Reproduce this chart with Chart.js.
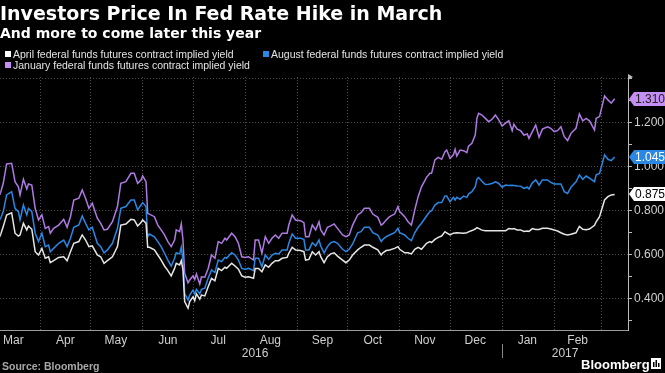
<!DOCTYPE html>
<html>
<head>
<meta charset="utf-8">
<script src="https://cdn.jsdelivr.net/npm/chart.js@4.4.1/dist/chart.umd.min.js"></script>
<style>
  html, body { margin: 0; padding: 0; background: #000; }
  #wrap { width: 665px; height: 373px; }
</style>
</head>
<body>
<div id="wrap"><canvas id="fedChart" width="665" height="373"></canvas></div>
<script>
// x values are days counted from 1 Mar 2016
const days = [
  7, 9, 11, 14, 16, 18, 19, 21, 23, 24, 26, 28, 30, 32, 34, 36, 37, 39, 42, 45,
  47, 49, 51, 54, 56, 58, 60, 62, 65, 67, 69, 71, 74, 77, 79, 82, 85, 87, 89, 91,
  92, 94, 95,
  96, 99, 101, 103, 105, 107, 109, 111, 112, 114, 115, 116, 117, 119, 120, 122, 123, 124, 126, 127,
  129, 131, 133, 135, 137, 139, 141, 142, 145, 147, 149, 151, 153, 155, 158, 159, 161, 163, 165, 167,
  169, 171, 173, 175, 178, 179, 181, 183,
  186, 188, 189, 191, 193, 195, 197, 198, 200, 202, 204, 206, 208, 211, 213, 215, 217, 220, 222, 224,
  227, 229, 232, 234, 235, 237, 239, 242, 244, 245, 248, 250, 252, 254, 256, 258, 261, 263, 264, 266,
  268, 270, 272, 273,
  275, 277, 278, 279, 281, 283, 285, 286, 288, 290, 291, 292, 294, 296, 298, 300, 302, 304, 306, 308,
  310, 312, 313, 315, 317, 319, 321, 322, 324, 326, 328, 330, 333, 335, 337, 339, 341, 343, 345, 347,
  350, 352, 354, 356, 358, 361, 362, 364, 367, 369, 371, 373
];

const aprilYield = [
  0.683, 0.729, 0.782, 0.792, 0.699, 0.686, 0.691, 0.744, 0.714, 0.732, 0.717, 0.615, 0.600, 0.630, 0.585, 0.592, 0.565, 0.574, 0.589, 0.592,
  0.574, 0.615, 0.653, 0.661, 0.691, 0.668, 0.638, 0.641, 0.600, 0.592, 0.562, 0.574, 0.592, 0.638, 0.736, 0.741, 0.762, 0.759, 0.732, 0.747,
  0.759, 0.744, 0.635,
  0.635, 0.623, 0.600, 0.577, 0.550, 0.529, 0.505, 0.539, 0.562, 0.555, 0.574, 0.532, 0.388, 0.358, 0.388, 0.410, 0.392, 0.423, 0.399, 0.418,
  0.414, 0.456, 0.494, 0.483, 0.539, 0.529, 0.544, 0.539, 0.562, 0.550, 0.535, 0.505, 0.499, 0.501, 0.494, 0.539, 0.539, 0.524, 0.555, 0.544,
  0.562, 0.574, 0.574, 0.585, 0.589, 0.608, 0.635, 0.623,
  0.620, 0.615, 0.577, 0.580, 0.615, 0.600, 0.615, 0.592, 0.565, 0.592, 0.605, 0.610, 0.595, 0.577, 0.565, 0.577, 0.600, 0.623, 0.635, 0.645,
  0.645, 0.635, 0.623, 0.600, 0.610, 0.620, 0.623, 0.630, 0.638, 0.626, 0.610, 0.610, 0.605, 0.626, 0.635, 0.626, 0.653, 0.661, 0.656, 0.671,
  0.680, 0.686, 0.706, 0.701,
  0.691, 0.699, 0.700, 0.701, 0.700, 0.699, 0.701, 0.705, 0.711, 0.718, 0.724, 0.721, 0.713, 0.710, 0.710, 0.710, 0.710, 0.710, 0.710, 0.710,
  0.720, 0.718, 0.720, 0.714, 0.714, 0.707, 0.709, 0.707, 0.720, 0.716, 0.716, 0.721, 0.721, 0.718, 0.714, 0.709, 0.701, 0.694, 0.691, 0.694,
  0.701, 0.730, 0.717, 0.715, 0.718, 0.735, 0.751, 0.774, 0.850, 0.865, 0.873, 0.875
];

const augustYield = [
  0.759, 0.797, 0.873, 0.888, 0.812, 0.797, 0.759, 0.827, 0.782, 0.812, 0.797, 0.699, 0.661, 0.699, 0.638, 0.645, 0.615, 0.630, 0.653, 0.668,
  0.638, 0.676, 0.726, 0.736, 0.777, 0.744, 0.714, 0.726, 0.653, 0.638, 0.610, 0.623, 0.653, 0.721, 0.812, 0.820, 0.850, 0.850, 0.805, 0.827,
  0.838, 0.820, 0.683,
  0.695, 0.683, 0.661, 0.638, 0.608, 0.577, 0.550, 0.585, 0.610, 0.605, 0.635, 0.577, 0.426, 0.395, 0.418, 0.441, 0.423, 0.444, 0.423, 0.444,
  0.449, 0.494, 0.532, 0.520, 0.577, 0.570, 0.589, 0.585, 0.610, 0.600, 0.577, 0.539, 0.535, 0.539, 0.529, 0.585, 0.585, 0.547, 0.600, 0.580,
  0.600, 0.608, 0.605, 0.623, 0.623, 0.653, 0.695, 0.676,
  0.676, 0.671, 0.623, 0.623, 0.656, 0.641, 0.668, 0.641, 0.610, 0.638, 0.656, 0.661, 0.653, 0.626, 0.615, 0.626, 0.650, 0.701, 0.706, 0.726,
  0.726, 0.701, 0.691, 0.661, 0.671, 0.683, 0.691, 0.701, 0.721, 0.701, 0.691, 0.676, 0.665, 0.701, 0.726, 0.744, 0.777, 0.797, 0.801, 0.827,
  0.838, 0.838, 0.868, 0.868,
  0.842, 0.862, 0.850, 0.862, 0.853, 0.868, 0.862, 0.877, 0.888, 0.910, 0.945, 0.952, 0.935, 0.920, 0.922, 0.925, 0.932, 0.925, 0.908, 0.918,
  0.916, 0.917, 0.916, 0.914, 0.913, 0.903, 0.908, 0.900, 0.928, 0.941, 0.918, 0.941, 0.941, 0.930, 0.923, 0.923, 0.923, 0.888, 0.880, 0.908,
  0.933, 0.964, 0.944, 0.959, 0.949, 0.933, 0.964, 0.971, 1.055, 1.035, 1.029, 1.045
];

const januaryYield = [
  0.873, 0.926, 1.014, 1.017, 0.933, 0.910, 0.873, 0.944, 0.900, 0.923, 0.918, 0.812, 0.759, 0.782, 0.721, 0.729, 0.699, 0.721, 0.736, 0.762,
  0.726, 0.774, 0.850, 0.858, 0.895, 0.858, 0.812, 0.835, 0.767, 0.744, 0.714, 0.717, 0.751, 0.820, 0.926, 0.933, 0.971, 0.971, 0.926, 0.941,
  0.959, 0.933, 0.789,
  0.786, 0.774, 0.736, 0.714, 0.691, 0.661, 0.638, 0.668, 0.714, 0.706, 0.741, 0.668, 0.517, 0.474, 0.486, 0.505, 0.489, 0.514, 0.468, 0.501,
  0.499, 0.539, 0.600, 0.585, 0.661, 0.653, 0.676, 0.668, 0.699, 0.683, 0.653, 0.592, 0.589, 0.592, 0.577, 0.668, 0.668, 0.608, 0.683, 0.653,
  0.676, 0.691, 0.676, 0.699, 0.699, 0.736, 0.782, 0.759,
  0.756, 0.747, 0.683, 0.683, 0.736, 0.714, 0.751, 0.714, 0.691, 0.726, 0.732, 0.741, 0.721, 0.691, 0.683, 0.691, 0.736, 0.782, 0.792, 0.812,
  0.812, 0.786, 0.771, 0.736, 0.741, 0.759, 0.774, 0.786, 0.820, 0.797, 0.774, 0.751, 0.736, 0.805, 0.865, 0.910, 0.953, 0.971, 0.971, 1.032,
  1.044, 1.035, 1.070, 1.077,
  1.039, 1.055, 1.080, 1.050, 1.077, 1.074, 1.065, 1.095, 1.108, 1.145, 1.221, 1.244, 1.236, 1.221, 1.206, 1.217, 1.236, 1.214, 1.186, 1.199,
  1.210, 1.165, 1.194, 1.172, 1.165, 1.145, 1.150, 1.130, 1.161, 1.191, 1.135, 1.172, 1.183, 1.176, 1.161, 1.165, 1.183, 1.138, 1.120, 1.153,
  1.176, 1.241, 1.210, 1.221, 1.210, 1.168, 1.221, 1.229, 1.323, 1.305, 1.290, 1.310
];

const seriesNames = [
  'April federal funds futures contract implied yield',
  'August federal funds futures contract implied yield',
  'January federal funds futures contract implied yield'
];

const monthNames = ['Mar', 'Apr', 'May', 'Jun', 'Jul', 'Aug', 'Sep', 'Oct', 'Nov', 'Dec', 'Jan', 'Feb'];
const monthMids = [15, 46, 76, 107, 137, 168, 199, 229, 260, 290, 321, 351];
const monthStarts = [31, 61, 92, 122, 153, 184, 214, 245, 275, 306, 337, 365];
const years = ['2016', '2017'];
const yearBreak = 306;

const yTicks = [0.3, 0.4, 0.5, 0.6, 0.7, 0.8, 0.9, 1.0, 1.1, 1.2, 1.3, 1.4];
const yLabelled = [0.4, 0.6, 0.8, 1.0, 1.2];
const yGridded = [0.4, 0.6, 0.8, 1.0, 1.2, 1.4];

const titleText = 'Investors Price In Fed Rate Hike in March';
const subtitleText = 'And more to come later this year';
const sourceText = 'Source: Bloomberg';

const lineColors = ['#e6e6e6', '#2a88e4', '#b07ae4'];
const badgeFill = ['#ffffff', '#2a88e4', '#c48ef2'];
const badgeInk = ['#000000', '#ffffff', '#222222'];

function toPoints(values) {
    return days.map(function (d, i) { return { x: d, y: values[i] }; });
}

function near(list, v) {
    return list.some(function (t) { return Math.abs(t - v) < 1e-6; });
}

const decorations = {
    id: 'decorations',
    afterDraw: function (chart) {
        const c = chart.ctx;
        const area = chart.chartArea;
        const xs = chart.scales.x;
        const ys = chart.scales.y;
        c.save();
        c.textAlign = 'left';
        c.textBaseline = 'alphabetic';

        // title block
        c.fillStyle = '#ffffff';
        c.font = 'bold 19px "DejaVu Sans"';
        c.fillText(titleText, 0, 20);
        c.font = 'bold 14px "DejaVu Sans"';
        c.fillText(subtitleText, 0, 38);

        // legend
        const slots = [[5, 57.5], [263, 57.5], [5, 68.5]];
        c.font = '10.5px "Liberation Sans"';
        seriesNames.forEach(function (name, i) {
            const p = slots[i];
            c.fillStyle = badgeFill[i];
            c.fillRect(p[0], p[1] - 6.5, 6, 6);
            c.fillStyle = '#e4e4e4';
            c.fillText(name, p[0] + 8, p[1]);
        });

        // arrow at top of the value axis
        c.fillStyle = '#bbbbbb';
        c.beginPath();
        c.moveTo(area.right, area.top - 3);
        c.lineTo(area.right + 5, area.top);
        c.lineTo(area.right, area.top + 3);
        c.closePath();
        c.fill();

        // years under the months
        const pBreak = xs.getPixelForValue(yearBreak);
        c.fillStyle = '#cfcfcf';
        c.font = '12px "Liberation Sans"';
        c.textAlign = 'center';
        c.fillText(years[0], (area.left + pBreak) / 2 + 4, 357);
        c.fillText(years[1], (pBreak + area.right) / 2, 357);
        c.strokeStyle = '#8a8a8a';
        c.lineWidth = 1;
        c.beginPath();
        c.moveTo(Math.round(pBreak) + 0.5, 344);
        c.lineTo(Math.round(pBreak) + 0.5, 358);
        c.stroke();

        // source and logo
        c.textAlign = 'left';
        c.fillStyle = '#a8a8a8';
        c.font = 'bold 10.5px "Liberation Sans"';
        c.fillText(sourceText, 2, 370);
        c.fillStyle = '#ffffff';
        c.font = 'bold 13px "Liberation Sans"';
        c.fillText('Bloomberg', 581, 369);
        c.fillRect(651, 358, 10, 11);
        c.fillStyle = '#000000';
        c.fillRect(653, 362, 1.5, 5);
        c.fillRect(655.5, 360, 1.5, 7);
        c.fillRect(658, 363, 1.5, 4);

        // last-value badges
        c.font = '12px "Liberation Sans"';
        c.textBaseline = 'middle';
        chart.data.datasets.forEach(function (ds, i) {
            const last = ds.data[ds.data.length - 1].y;
            const y = Math.round(ys.getPixelForValue(last));
            const x0 = area.right + 1;
            c.beginPath();
            c.moveTo(x0, y);
            c.lineTo(x0 + 5, y - 7);
            c.lineTo(665, y - 7);
            c.lineTo(665, y + 7);
            c.lineTo(x0 + 5, y + 7);
            c.closePath();
            c.fillStyle = badgeFill[i];
            c.fill();
            c.fillStyle = badgeInk[i];
            c.fillText(last.toFixed(3), x0 + 6, y + 0.5);
        });
        c.restore();
    }
};

const ctx = document.getElementById('fedChart');

new Chart(ctx, {
    type: 'line',
    data: {
        datasets: [
            { label: seriesNames[0], data: toPoints(aprilYield), borderColor: lineColors[0] },
            { label: seriesNames[1], data: toPoints(augustYield), borderColor: lineColors[1] },
            { label: seriesNames[2], data: toPoints(januaryYield), borderColor: lineColors[2] }
        ]
    },
    options: {
        responsive: false,
        animation: false,
        layout: { padding: { top: 77, left: 0, right: 0, bottom: 0 } },
        elements: {
            line: { borderWidth: 1.5, tension: 0 },
            point: { radius: 0 }
        },
        plugins: {
            legend: { display: false },
            tooltip: { enabled: false }
        },
        scales: {
            x: {
                type: 'linear',
                min: 7.14,
                max: 380.95,
                afterBuildTicks: function (scale) {
                    scale.ticks = monthStarts.concat(monthMids)
                        .sort(function (a, b) { return a - b; })
                        .map(function (v) { return { value: v }; });
                },
                afterFit: function (scale) { scale.height = 43; },
                grid: {
                    drawTicks: false,
                    color: function (context) {
                        return context.tick && monthStarts.includes(context.tick.value) ? '#505050' : 'rgba(0,0,0,0)';
                    }
                },
                border: { display: true, color: '#9a9a9a', dash: [1, 2] },
                ticks: {
                    color: '#cfcfcf',
                    font: { family: 'Liberation Sans', size: 12 },
                    padding: 3,
                    autoSkip: false,
                    maxRotation: 0,
                    callback: function (value) {
                        const i = monthMids.indexOf(value);
                        return i >= 0 ? monthNames[i] : '';
                    }
                }
            },
            y: {
                position: 'right',
                min: 0.259,
                max: 1.409,
                afterBuildTicks: function (scale) {
                    scale.ticks = yTicks.map(function (v) { return { value: v }; });
                },
                afterFit: function (scale) { scale.width = 37; },
                grid: {
                    tickLength: 4,
                    tickColor: '#bbbbbb',
                    color: function (context) {
                        return context.tick && near(yGridded, context.tick.value) ? '#505050' : 'rgba(0,0,0,0)';
                    }
                },
                border: { display: true, color: '#bbbbbb', dash: [1, 2] },
                ticks: {
                    color: '#cfcfcf',
                    font: { family: 'Liberation Sans', size: 12 },
                    padding: 2,
                    callback: function (value) {
                        return near(yLabelled, value) ? value.toFixed(3) : '';
                    }
                }
            }
        }
    },
    plugins: [decorations]
});
</script>
</body>
</html>
